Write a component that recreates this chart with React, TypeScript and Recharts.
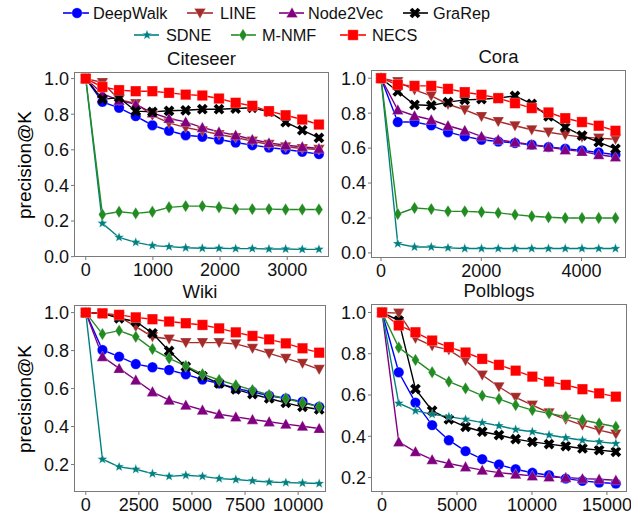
import React from "react";
import { LineChart, Line, XAxis, YAxis } from "recharts";

const FONT = '"Liberation Sans", Arial, sans-serif';

// K values (x axis) for each dataset
const citeseerK = [0, 248, 496, 744, 992, 1240, 1488, 1736, 1984, 2232, 2480, 2728, 2976, 3224, 3472];
const coraK = [0, 334, 668, 1002, 1336, 1670, 2004, 2338, 2672, 3006, 3340, 3674, 4008, 4342, 4676];
const wikiK = [0, 785, 1570, 2355, 3140, 3925, 4710, 5495, 6280, 7065, 7850, 8635, 9420, 10205, 10990];
const polblogsK = [0, 1114, 2228, 3342, 4456, 5570, 6684, 7798, 8912, 10026, 11140, 12254, 13368, 14482, 15596];

// Citeseer
const citeseerDeepWalk = [1.0, 0.869, 0.836, 0.789, 0.738, 0.707, 0.682, 0.673, 0.658, 0.641, 0.626, 0.613, 0.602, 0.589, 0.576];
const citeseerLINE = [1.0, 0.978, 0.882, 0.86, 0.794, 0.751, 0.725, 0.706, 0.686, 0.669, 0.649, 0.63, 0.617, 0.607, 0.602];
const citeseerNode2Vec = [1.0, 0.915, 0.878, 0.855, 0.807, 0.776, 0.757, 0.725, 0.701, 0.682, 0.658, 0.639, 0.626, 0.617, 0.607];
const citeseerGraRep = [1.0, 0.884, 0.893, 0.817, 0.813, 0.819, 0.822, 0.828, 0.828, 0.832, 0.836, 0.813, 0.755, 0.71, 0.667];
const citeseerSDNE = [1.0, 0.187, 0.108, 0.08, 0.062, 0.056, 0.05, 0.047, 0.047, 0.045, 0.045, 0.043, 0.043, 0.041, 0.041];
const citeseerMNMF = [1.0, 0.237, 0.252, 0.243, 0.252, 0.277, 0.284, 0.284, 0.277, 0.267, 0.267, 0.267, 0.265, 0.265, 0.265];
const citeseerNECS = [1.0, 0.953, 0.935, 0.929, 0.929, 0.92, 0.91, 0.905, 0.888, 0.864, 0.847, 0.817, 0.794, 0.77, 0.742];

// Cora
const coraDeepWalk = [1.0, 0.749, 0.749, 0.73, 0.691, 0.667, 0.648, 0.638, 0.629, 0.619, 0.606, 0.596, 0.587, 0.575, 0.562];
const coraLINE = [1.0, 0.98, 0.933, 0.899, 0.851, 0.819, 0.781, 0.752, 0.728, 0.705, 0.691, 0.676, 0.663, 0.657, 0.651];
const coraNode2Vec = [1.0, 0.819, 0.785, 0.762, 0.728, 0.701, 0.667, 0.648, 0.634, 0.619, 0.606, 0.59, 0.581, 0.562, 0.549];
const coraGraRep = [1.0, 0.924, 0.848, 0.844, 0.863, 0.876, 0.88, 0.886, 0.899, 0.853, 0.781, 0.72, 0.672, 0.634, 0.596];
const coraSDNE = [1.0, 0.053, 0.034, 0.034, 0.029, 0.025, 0.025, 0.025, 0.025, 0.025, 0.025, 0.025, 0.025, 0.025, 0.025];
const coraMNMF = [1.0, 0.223, 0.257, 0.251, 0.238, 0.238, 0.234, 0.229, 0.219, 0.21, 0.204, 0.2, 0.2, 0.2, 0.2];
const coraNECS = [1.0, 0.962, 0.956, 0.956, 0.939, 0.92, 0.905, 0.886, 0.857, 0.829, 0.804, 0.771, 0.749, 0.728, 0.699];

// Wiki
const wikiDeepWalk = [1.0, 0.803, 0.768, 0.729, 0.712, 0.698, 0.675, 0.648, 0.627, 0.601, 0.583, 0.562, 0.548, 0.531, 0.504];
const wikiLINE = [1.0, 0.996, 0.979, 0.926, 0.873, 0.861, 0.842, 0.842, 0.842, 0.835, 0.812, 0.785, 0.759, 0.733, 0.701];
const wikiNode2Vec = [1.0, 0.768, 0.706, 0.645, 0.583, 0.539, 0.513, 0.487, 0.465, 0.451, 0.437, 0.425, 0.413, 0.402, 0.39];
const wikiGraRep = [1.0, 0.996, 0.97, 0.953, 0.891, 0.798, 0.715, 0.666, 0.627, 0.596, 0.571, 0.548, 0.525, 0.504, 0.49];
const wikiSDNE = [1.0, 0.228, 0.188, 0.175, 0.152, 0.138, 0.144, 0.138, 0.126, 0.121, 0.114, 0.108, 0.105, 0.103, 0.1];
const wikiMNMF = [1.0, 0.887, 0.905, 0.873, 0.808, 0.759, 0.719, 0.676, 0.645, 0.618, 0.592, 0.566, 0.548, 0.525, 0.504];
const wikiNECS = [1.0, 0.996, 0.988, 0.975, 0.965, 0.953, 0.944, 0.935, 0.917, 0.896, 0.877, 0.859, 0.838, 0.812, 0.789];

// Polblogs
const polblogsDeepWalk = [1.0, 0.71, 0.563, 0.454, 0.381, 0.328, 0.289, 0.263, 0.24, 0.223, 0.211, 0.195, 0.184, 0.176, 0.171];
const polblogsLINE = [1.0, 0.997, 0.875, 0.838, 0.819, 0.767, 0.697, 0.64, 0.589, 0.551, 0.514, 0.482, 0.454, 0.43, 0.411];
const polblogsNode2Vec = [1.0, 0.373, 0.325, 0.287, 0.268, 0.252, 0.236, 0.224, 0.216, 0.208, 0.203, 0.2, 0.195, 0.192, 0.187];
const polblogsGraRep = [1.0, 0.961, 0.629, 0.524, 0.482, 0.446, 0.422, 0.406, 0.386, 0.373, 0.362, 0.352, 0.341, 0.333, 0.325];
const polblogsSDNE = [1.0, 0.56, 0.524, 0.506, 0.495, 0.482, 0.466, 0.451, 0.433, 0.422, 0.406, 0.393, 0.381, 0.373, 0.365];
const polblogsMNMF = [1.0, 0.83, 0.77, 0.71, 0.665, 0.632, 0.597, 0.581, 0.551, 0.527, 0.511, 0.495, 0.479, 0.462, 0.446];
const polblogsNECS = [1.0, 0.937, 0.904, 0.864, 0.832, 0.806, 0.775, 0.746, 0.718, 0.689, 0.665, 0.649, 0.628, 0.608, 0.592];

const methods = [
  { name: "DeepWalk", color: "#0000ff", shape: "circle" },
  { name: "LINE", color: "#a52a2a", shape: "tridown" },
  { name: "Node2Vec", color: "#800080", shape: "triup" },
  { name: "GraRep", color: "#000000", shape: "x" },
  { name: "SDNE", color: "#008080", shape: "star" },
  { name: "M-NMF", color: "#228b22", shape: "diamond" },
  { name: "NECS", color: "#ff0000", shape: "square" },
];

function buildRows(k: number[], series: number[][]) {
  return k.map((kv, i) => {
    const row: any = { k: kv };
    methods.forEach((m, j) => {
      row[m.name] = series[j][i];
    });
    return row;
  });
}

const citeseerRows = buildRows(citeseerK, [citeseerDeepWalk, citeseerLINE, citeseerNode2Vec, citeseerGraRep, citeseerSDNE, citeseerMNMF, citeseerNECS]);
const coraRows = buildRows(coraK, [coraDeepWalk, coraLINE, coraNode2Vec, coraGraRep, coraSDNE, coraMNMF, coraNECS]);
const wikiRows = buildRows(wikiK, [wikiDeepWalk, wikiLINE, wikiNode2Vec, wikiGraRep, wikiSDNE, wikiMNMF, wikiNECS]);
const polblogsRows = buildRows(polblogsK, [polblogsDeepWalk, polblogsLINE, polblogsNode2Vec, polblogsGraRep, polblogsSDNE, polblogsMNMF, polblogsNECS]);

function Marker({ shape, color, cx, cy }: any) {
  const edge = { stroke: "#ffffff", strokeOpacity: 0.35, strokeWidth: 0.8 };
  if (shape === "circle") return <circle cx={cx} cy={cy} r={5.2} fill={color} {...edge} />;
  if (shape === "square") return <rect x={cx - 5.2} y={cy - 5.2} width={10.4} height={10.4} fill={color} {...edge} />;
  if (shape === "tridown")
    return <polygon points={`${cx - 5.7},${cy - 4.6} ${cx + 5.7},${cy - 4.6} ${cx},${cy + 5.7}`} fill={color} {...edge} />;
  if (shape === "triup")
    return <polygon points={`${cx - 5.7},${cy + 4.6} ${cx + 5.7},${cy + 4.6} ${cx},${cy - 5.7}`} fill={color} {...edge} />;
  if (shape === "diamond")
    return <polygon points={`${cx},${cy - 6.2} ${cx + 3.9},${cy} ${cx},${cy + 6.2} ${cx - 3.9},${cy}`} fill={color} {...edge} />;
  if (shape === "x")
    return (
      <g transform={`translate(${cx},${cy}) rotate(45)`} fill={color}>
        <rect x={-5.7} y={-1.9} width={11.4} height={3.8} />
        <rect x={-1.9} y={-5.7} width={3.8} height={11.4} />
      </g>
    );
  // star
  const pts: string[] = [];
  for (let i = 0; i < 10; i++) {
    const r = i % 2 === 0 ? 5.2 : 2.2;
    const a = -Math.PI / 2 + (i * Math.PI) / 5;
    pts.push(`${cx + r * Math.cos(a)},${cy + r * Math.sin(a)}`);
  }
  return <polygon points={pts.join(" ")} fill={color} {...edge} />;
}

const YW = 50;
const XH = 30;
const MT = 12;
const MR = 30;

function Panel({ title, rows, frame, xDomain, xTicks, yDomain, yTicks, showYLabel }: any) {
  return (
    <>
      <div
        style={{
          position: "absolute",
          left: frame.x,
          width: frame.w,
          top: frame.y - 20,
          textAlign: "center",
          fontFamily: FONT,
          fontSize: 18.5,
          lineHeight: "14px",
          color: "#111",
        }}
      >
        {title}
      </div>
      {showYLabel && (
        <div
          style={{
            position: "absolute",
            left: 25,
            top: frame.y + frame.h / 2 - 10,
            width: 0,
            height: 20,
            display: "flex",
            justifyContent: "center",
            fontFamily: FONT,
            fontSize: 19,
            lineHeight: "20px",
          }}
        >
          <span style={{ transform: "rotate(-90deg)", whiteSpace: "nowrap", display: "inline-block" }}>precision@K</span>
        </div>
      )}
      <div style={{ position: "absolute", left: frame.x - YW, top: frame.y - MT }}>
        <LineChart
          width={frame.w + YW + MR}
          height={frame.h + XH + MT}
          data={rows}
          margin={{ top: MT, right: MR, bottom: 0, left: 0 }}
        >
          <XAxis
            dataKey="k"
            type="number"
            domain={xDomain}
            ticks={xTicks}
            height={XH}
            axisLine={false}
            tickLine={{ stroke: "#777" }}
            tickSize={3}
            tickMargin={3}
            interval={0}
            tick={{ fill: "#111", fontSize: 18, fontFamily: FONT }}
          />
          <YAxis
            type="number"
            domain={yDomain}
            ticks={yTicks}
            width={YW}
            axisLine={false}
            tickLine={{ stroke: "#777" }}
            tickSize={3}
            tickMargin={2}
            interval={0}
            tickFormatter={(v: number) => v.toFixed(1)}
            tick={{ fill: "#111", fontSize: 18, fontFamily: FONT }}
          />
          {methods.map((m) => (
            <Line
              key={m.name}
              type="linear"
              dataKey={m.name}
              stroke={m.color}
              strokeWidth={1.4}
              isAnimationActive={false}
              activeDot={false}
              dot={(p: any) => (
                <Marker key={`${m.name}-${p.index}`} shape={m.shape} color={m.color} cx={p.cx} cy={p.cy} />
              )}
            />
          ))}
        </LineChart>
      </div>
      <div
        style={{
          position: "absolute",
          left: frame.x,
          top: frame.y,
          width: frame.w,
          height: frame.h,
          border: "1px solid #7a7a7a",
          boxSizing: "border-box",
          pointerEvents: "none",
        }}
      />
    </>
  );
}

const legendItems = [
  { m: 0, x1: 63, x2: 89, cx: 77, tx: 93, y: 13 },
  { m: 1, x1: 187, x2: 213, cx: 200, tx: 220, y: 13 },
  { m: 2, x1: 279, x2: 304, cx: 292, tx: 308, y: 13 },
  { m: 3, x1: 403, x2: 428, cx: 415, tx: 433, y: 13 },
  { m: 4, x1: 134, x2: 159, cx: 147, tx: 166, y: 35 },
  { m: 5, x1: 231, x2: 256, cx: 243, tx: 262, y: 35 },
  { m: 6, x1: 340, x2: 366, cx: 353, tx: 372, y: 35 },
];

function Legend() {
  return (
    <svg width={631} height={48} style={{ position: "absolute", left: 0, top: 0 }}>
      {legendItems.map((it) => {
        const m = methods[it.m];
        return (
          <g key={m.name}>
            <line x1={it.x1} x2={it.x2} y1={it.y} y2={it.y} stroke={m.color} strokeWidth={1.6} />
            <Marker shape={m.shape} color={m.color} cx={it.cx} cy={it.y} />
            <text x={it.tx} y={it.y} dy="0.36em" fontFamily={FONT} fontSize={16.3} fill="#111">
              {m.name}
            </text>
          </g>
        );
      })}
    </svg>
  );
}

export default function App() {
  return (
    <div style={{ position: "absolute", left: 0, top: 0, width: 631, height: 516, background: "#fff", overflow: "hidden" }}>
      <Legend />
      <Panel
        title="Citeseer"
        rows={citeseerRows}
        frame={{ x: 74, y: 72, w: 255, h: 185 }}
        xDomain={[-175, 3622]}
        xTicks={[0, 1000, 2000, 3000]}
        yDomain={[-0.002, 1.037]}
        yTicks={[0, 0.2, 0.4, 0.6, 0.8, 1.0]}
        showYLabel
      />
      <Panel
        title="Cora"
        rows={coraRows}
        frame={{ x: 371, y: 70, w: 255, h: 188 }}
        xDomain={[-200, 4886]}
        xTicks={[0, 2000, 4000]}
        yDomain={[-0.029, 1.047]}
        yTicks={[0, 0.2, 0.4, 0.6, 0.8, 1.0]}
      />
      <Panel
        title="Wiki"
        rows={wikiRows}
        frame={{ x: 74, y: 305, w: 252, h: 187 }}
        xDomain={[-554, 11311]}
        xTicks={[0, 2500, 5000, 7500, 10000]}
        yDomain={[0.0555, 1.04]}
        yTicks={[0.2, 0.4, 0.6, 0.8, 1.0]}
        showYLabel
      />
      <Panel
        title="Polblogs"
        rows={polblogsRows}
        frame={{ x: 371, y: 304, w: 256, h: 188 }}
        xDomain={[-737, 16340]}
        xTicks={[0, 5000, 10000, 15000]}
        yDomain={[0.13, 1.041]}
        yTicks={[0.2, 0.4, 0.6, 0.8, 1.0]}
      />
    </div>
  );
}
